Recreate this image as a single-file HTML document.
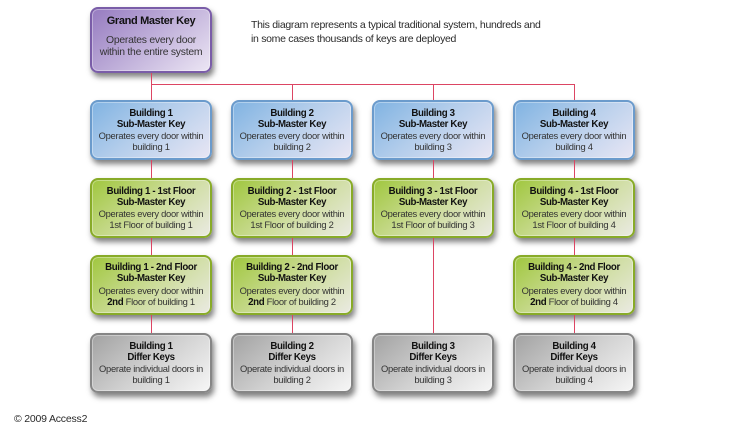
<!DOCTYPE html>
<html>
<head>
<meta charset="utf-8">
<style>
  html, body { margin:0; padding:0; }
  body { width:740px; height:438px; background:#ffffff; position:relative; overflow:hidden;
         font-family:"Liberation Sans", Arial, sans-serif; }
  .ln { position:absolute; background:#dc4563; z-index:5; width:1px; }
  .hl { position:absolute; background:#dc4563; z-index:5; height:1px; }
  .box { position:absolute; width:122px; height:60px; box-sizing:border-box; border-radius:8px;
         border:2px solid; box-shadow: 2px 4px 6px rgba(0,0,0,0.5), inset 0 0 0 1px rgba(255,255,255,0.35);
         display:flex; flex-direction:column; justify-content:center; align-items:center; text-align:center;
         font-size:9.4px; letter-spacing:-0.28px; line-height:11.1px; color:#333; }
  .box b { color:#111; font-weight:bold; font-size:9.7px; letter-spacing:-0.35px; }
  .blue { border-color:#6b9bcc; background:linear-gradient(140deg,#80b3e2 0%,#b3cdeb 45%,#e8e6f4 100%); }
  .green { border-color:#88ab28; background:linear-gradient(140deg,#a0c73e 0%,#c8da90 45%,#eaeae2 100%); }
  .grey { border-color:#868686; background:linear-gradient(140deg,#a2a2a2 0%,#d0d0d0 50%,#f6f6f6 100%); }
  .purple { position:absolute; left:90px; top:7px; width:122px; height:66px; box-sizing:border-box; border-radius:8px;
         border:2px solid #7a5da8; background:linear-gradient(140deg,#967bc0 0%,#c0b0da 50%,#ece6f4 100%);
         box-shadow: 2px 4px 6px rgba(0,0,0,0.5), inset 0 0 0 1px rgba(255,255,255,0.35); text-align:center; }
  .purple .t { position:absolute; left:0; right:0; top:6px; line-height:12px; font-size:11px; font-weight:bold; color:#111; letter-spacing:-0.35px; }
  .purple .d { position:absolute; left:0; right:0; top:26px; line-height:11.6px; font-size:10.4px; color:#333; letter-spacing:-0.25px; }
  .desc { position:absolute; left:251px; top:19px; font-size:10.5px; line-height:13.6px; color:#2a2a2a; letter-spacing:-0.3px; white-space:nowrap; }
  .copy { position:absolute; left:14px; top:413px; font-size:10.5px; line-height:12px; color:#2a2a2a; letter-spacing:-0.2px; white-space:nowrap; }
</style>
</head>
<body>
<!-- connectors -->
<div class="ln" style="left:151px;top:73px;height:12px;"></div>
<div class="hl" style="left:151px;top:84px;width:424px;"></div>
<div class="ln" style="left:151px;top:84px;height:16px;"></div>
<div class="ln" style="left:292px;top:84px;height:16px;"></div>
<div class="ln" style="left:433px;top:84px;height:16px;"></div>
<div class="ln" style="left:574px;top:84px;height:16px;"></div>

<div class="ln" style="left:151px;top:160px;height:18px;"></div>
<div class="ln" style="left:151px;top:238px;height:17px;"></div>
<div class="ln" style="left:151px;top:315px;height:18px;"></div>

<div class="ln" style="left:292px;top:160px;height:18px;"></div>
<div class="ln" style="left:292px;top:238px;height:17px;"></div>
<div class="ln" style="left:292px;top:315px;height:18px;"></div>

<div class="ln" style="left:433px;top:160px;height:18px;"></div>
<div class="ln" style="left:433px;top:238px;height:95px;"></div>

<div class="ln" style="left:574px;top:160px;height:18px;"></div>
<div class="ln" style="left:574px;top:238px;height:17px;"></div>
<div class="ln" style="left:574px;top:315px;height:18px;"></div>

<!-- grand master -->
<div class="purple">
  <div class="t">Grand Master Key</div>
  <div class="d">Operates every door<br>within the entire system</div>
</div>

<div class="desc">This diagram represents a typical traditional system, hundreds and<br>in some cases thousands of keys are deployed</div>

<!-- row 1 -->
<div class="box blue" style="left:90px;top:100px;"><b>Building 1</b><b>Sub-Master Key</b><span>Operates every door within</span><span>building 1</span></div>
<div class="box blue" style="left:231px;top:100px;"><b>Building 2</b><b>Sub-Master Key</b><span>Operates every door within</span><span>building 2</span></div>
<div class="box blue" style="left:372px;top:100px;"><b>Building 3</b><b>Sub-Master Key</b><span>Operates every door within</span><span>building 3</span></div>
<div class="box blue" style="left:513px;top:100px;"><b>Building 4</b><b>Sub-Master Key</b><span>Operates every door within</span><span>building 4</span></div>

<!-- row 2 -->
<div class="box green" style="left:90px;top:178px;"><b>Building 1 - 1st Floor</b><b>Sub-Master Key</b><span>Operates every door within</span><span>1st Floor of building 1</span></div>
<div class="box green" style="left:231px;top:178px;"><b>Building 2 - 1st Floor</b><b>Sub-Master Key</b><span>Operates every door within</span><span>1st Floor of building 2</span></div>
<div class="box green" style="left:372px;top:178px;"><b>Building 3 - 1st Floor</b><b>Sub-Master Key</b><span>Operates every door within</span><span>1st Floor of building 3</span></div>
<div class="box green" style="left:513px;top:178px;"><b>Building 4 - 1st Floor</b><b>Sub-Master Key</b><span>Operates every door within</span><span>1st Floor of building 4</span></div>

<!-- row 3 -->
<div class="box green" style="left:90px;top:255px;"><b>Building 1 - 2nd Floor</b><b>Sub-Master Key</b><span>Operates every door within</span><span><b>2nd</b> Floor of building 1</span></div>
<div class="box green" style="left:231px;top:255px;"><b>Building 2 - 2nd Floor</b><b>Sub-Master Key</b><span>Operates every door within</span><span><b>2nd</b> Floor of building 2</span></div>
<div class="box green" style="left:513px;top:255px;"><b>Building 4 - 2nd Floor</b><b>Sub-Master Key</b><span>Operates every door within</span><span><b>2nd</b> Floor of building 4</span></div>

<!-- row 4 -->
<div class="box grey" style="left:90px;top:333px;"><b>Building 1</b><b>Differ Keys</b><span>Operate individual doors in</span><span>building 1</span></div>
<div class="box grey" style="left:231px;top:333px;"><b>Building 2</b><b>Differ Keys</b><span>Operate individual doors in</span><span>building 2</span></div>
<div class="box grey" style="left:372px;top:333px;"><b>Building 3</b><b>Differ Keys</b><span>Operate individual doors in</span><span>building 3</span></div>
<div class="box grey" style="left:513px;top:333px;"><b>Building 4</b><b>Differ Keys</b><span>Operate individual doors in</span><span>building 4</span></div>

<div class="copy">© 2009 Access2</div>
</body>
</html>
